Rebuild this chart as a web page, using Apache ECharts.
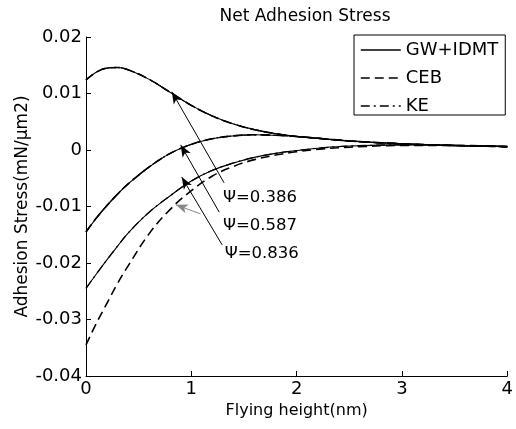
<!DOCTYPE html>
<html>
<head>
<meta charset="utf-8">
<script src="https://cdn.jsdelivr.net/npm/echarts@6/dist/echarts.min.js"></script>
<style>
html,body{margin:0;padding:0;background:#fff;}
#chart{width:516px;height:429px;}
</style>
</head>
<body>
<div id="chart"></div>
<script>
// ---- data ----
const heights = [0, 0.1, 0.2, 0.3, 0.4, 0.6, 0.8, 1.0, 1.2, 1.4, 1.6, 1.8, 2.0, 2.25, 2.5, 3.0, 3.5, 4.0];
const psi386 = [0.0124, 0.0138, 0.0145, 0.0146, 0.0142, 0.0125, 0.0102, 0.0079, 0.0060, 0.0046, 0.0036, 0.0029, 0.0024, 0.0020, 0.0016, 0.0011, 0.0008, 0.0006];
const psi587 = [-0.0145, -0.0120, -0.0098, -0.0078, -0.0060, -0.0030, -0.0006, 0.0010, 0.0020, 0.0025, 0.0027, 0.0026, 0.0024, 0.0020, 0.0016, 0.0011, 0.0008, 0.0006];
const psi836 = [-0.0245, -0.0219, -0.0194, -0.0170, -0.0147, -0.0110, -0.0081, -0.0055, -0.0036, -0.0023, -0.0013, -0.0006, -0.0001, 0.0004, 0.0007, 0.0009, 0.0008, 0.0006];
const psi836CEB = [-0.0345, -0.0306, -0.0271, -0.0236, -0.0205, -0.0148, -0.0105, -0.0072, -0.0046, -0.0029, -0.0017, -0.0009, -0.0003, 0.0002, 0.0005, 0.0008, 0.0008, 0.0006];
const models = ['GW+IDMT', 'CEB', 'KE'];
const xTicks = [0, 1, 2, 3, 4];
const yTicks = [-0.04, -0.03, -0.02, -0.01, 0, 0.01, 0.02];
// annotation arrows [from, to] in data units
const arrows = [
  [[1.311, -0.0058], [0.815, 0.0103]],
  [[1.265, -0.0110], [0.899, 0.0009]],
  [[1.293, -0.0168], [0.909, -0.0048]]
];
const grayArrow = [[1.087, -0.0113], [0.852, -0.0097]];
const psiLabels = ['Ψ=0.386', 'Ψ=0.587', 'Ψ=0.836'];
const psiLabelPos = [[1.300, -0.0084], [1.300, -0.0134], [1.318, -0.0184]];

const FONT = 'DejaVu Sans';
const pairs = arr => heights.map((h, i) => [h, arr[i]]);
const styles = {
  'GW+IDMT': 'solid',
  'CEB': [9, 5],
  'KE': [9, 4, 2, 4]
};
const widths = {'GW+IDMT': 1.1, 'CEB': 1.6, 'KE': 1.3};
const seriesData = {
  'GW+IDMT': [psi386, psi587, psi836],
  'CEB': [psi386, psi587, psi836CEB],
  'KE': [psi386, psi587, psi836]
};
const series = [];
models.forEach(m => {
  seriesData[m].forEach(arr => {
    series.push({
      name: m, type: 'line', data: pairs(arr), smooth: 0.4,
      symbol: 'none', showSymbol: false, animation: false, silent: true,
      lineStyle: {color: '#000', width: widths[m], type: styles[m]},
      itemStyle: {color: '#000'}
    });
  });
});
series.push({
  name: 'annot', type: 'line', data: [], animation: false, silent: true,
  markLine: {
    silent: true, animation: false, symbol: ['none', 'arrow'], symbolSize: [7, 12],
    label: {show: false},
    lineStyle: {color: '#000', width: 1, type: 'solid'},
    data: arrows.map(a => [{coord: a[0]}, {coord: a[1]}]).concat([
      [{coord: grayArrow[0], lineStyle: {color: '#888'}, itemStyle: {color: '#888'}},
       {coord: grayArrow[1], lineStyle: {color: '#888'}, itemStyle: {color: '#888'}}]
    ])
  },
  markPoint: {
    silent: true, animation: false, symbol: 'circle', symbolSize: 0,
    label: {show: true, position: 'right', distance: 0, color: '#000', fontSize: 16.5, fontFamily: FONT,
      formatter: p => p.name},
    data: psiLabels.map((t, i) => ({name: t, coord: psiLabelPos[i]}))
  }
});

const chart = echarts.init(document.getElementById('chart'), null, {renderer: 'canvas'});
chart.setOption({
  animation: false,
  backgroundColor: '#fff',
  title: {
    text: 'Net Adhesion Stress', left: 300, top: 3, textAlign: 'center',
    textStyle: {fontSize: 17, fontWeight: 'normal', fontFamily: FONT, color: '#000'}
  },
  legend: {
    data: models, orient: 'vertical', left: 354, top: 35,
    itemWidth: 40, itemHeight: 14, itemGap: 10,
    padding: [6, 7, 0, 6],
    borderColor: '#000', borderWidth: 1, backgroundColor: '#fff',
    itemStyle: {opacity: 0},
    lineStyle: {width: 1.5, color: '#000', opacity: 1},
    textStyle: {fontSize: 18, fontFamily: FONT, color: '#000'}
  },
  grid: {left: 86, right: 3, top: 37, bottom: 53, containLabel: false},
  xAxis: {
    type: 'value', min: xTicks[0], max: xTicks[xTicks.length - 1], interval: 1,
    name: 'Flying height(nm)', nameLocation: 'middle', nameGap: 25,
    nameTextStyle: {fontSize: 16, fontFamily: FONT, color: '#000'},
    axisLine: {onZero: false, lineStyle: {color: '#000', width: 1}},
    axisTick: {inside: true, length: 5, lineStyle: {color: '#000'}},
    axisLabel: {fontSize: 18, fontFamily: FONT, color: '#000', margin: 4},
    splitLine: {show: false}
  },
  yAxis: {
    type: 'value', min: yTicks[0], max: yTicks[yTicks.length - 1], interval: 0.01,
    name: 'Adhesion Stress(mN/μm2)', nameLocation: 'middle', nameGap: 55, nameRotate: 90,
    nameMoveOverlap: false,
    nameTextStyle: {fontSize: 17, fontFamily: FONT, color: '#000'},
    axisLine: {show: true, onZero: false, lineStyle: {color: '#000', width: 1}},
    axisTick: {show: true, inside: true, length: 5, lineStyle: {color: '#000'}},
    axisLabel: {fontSize: 18, fontFamily: FONT, color: '#000', margin: 4,
      formatter: v => Math.abs(v) < 1e-9 ? '0' : v.toFixed(2)},
    splitLine: {show: false}
  },
  series: series
});
</script>
</body>
</html>
